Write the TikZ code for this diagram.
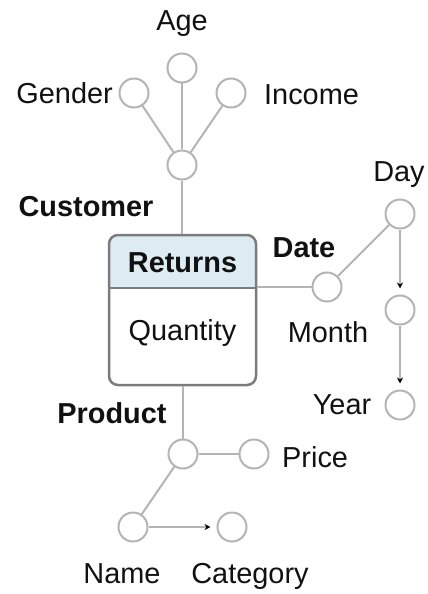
\documentclass[tikz,border=0pt]{standalone}
\usepackage{fontspec}
\setmainfont{Liberation Sans}
\usetikzlibrary{arrows.meta}
\definecolor{linegray}{HTML}{B4B4B4}
\definecolor{boxgray}{HTML}{7C7C7C}
\definecolor{headblue}{HTML}{DDECF3}
\definecolor{ink}{HTML}{111111}
\begin{document}
\begin{tikzpicture}[x=1bp,y=-1bp,
  attr/.style={circle,draw=linegray,line width=2bp,minimum size=29bp,inner sep=0pt,fill=white},
  lbl/.style={font=\fontsize{29}{34}\selectfont,text=ink,inner sep=0pt},
  dimlbl/.style={font=\fontsize{29}{34}\selectfont\bfseries,text=ink,inner sep=0pt},
  link/.style={draw=linegray,line width=2bp},
  hier/.style={link,-{Stealth[black,length=6bp,width=6bp]},shorten >=6bp}]
\useasboundingbox (0,0) rectangle (427,594);

% fact table: header band, separator and outline
\begin{scope}
  \clip[rounded corners=9bp] (109,235) rectangle (256,385);
  \fill[headblue] (109,235) rectangle (256,288);
  \fill[white] (109,288) rectangle (256,385);
\end{scope}
\draw[boxgray,line width=2.5bp] (109,288) -- (256,288);
\node (fact) [draw=boxgray,line width=2.5bp,rounded corners=9bp,minimum width=147bp,minimum height=150bp,inner sep=0pt] at (182.5,310) {};
\node (factname) [dimlbl] at (182.5,263) {Returns};
\node (measure) [lbl] at (182.5,333) {Quantity};

% Customer dimension
\node (cust) [attr] at (182,165) {};
\node (age) [attr] at (182,68) {};
\node (gender) [attr] at (134,93) {};
\node (income) [attr] at (231,93) {};
\node [lbl] at (182,24) {Age};
\node [lbl,anchor=east] at (113,93) {Gender};
\node [lbl,anchor=west] at (264,95) {Income};
\node [dimlbl] at (86,207) {Customer};
\draw[link] (cust) -- (age);
\draw[link] (cust) -- (gender);
\draw[link] (cust) -- (income);
\draw[link] (cust) -- (fact.north -| cust);

% Date dimension
\node (date) [attr] at (327,287) {};
\node (day) [attr] at (400,214) {};
\node (month) [attr] at (400,310) {};
\node (year) [attr] at (400,405) {};
\node [dimlbl] at (304,248) {Date};
\node [lbl] at (399,175) {Day};
\node [lbl] at (328,332) {Month};
\node [lbl] at (342,405) {Year};
\draw[link] (date -| fact.east) -- (date);
\draw[link] (date) -- (day);
\draw[hier] (day) -- (month);
\draw[hier] (month) -- (year);

% Product dimension
\node (prod) [attr] at (183,454) {};
\node (price) [attr] at (254,454) {};
\node (name) [attr] at (133,527) {};
\node (cat) [attr] at (232,527) {};
\node [dimlbl] at (112,413) {Product};
\node [lbl,anchor=west] at (282,457) {Price};
\node [lbl,anchor=base] at (122,583) {Name};
\node [lbl,anchor=base] at (250,583) {Category};
\draw[link] (fact.south -| prod) -- (prod);
\draw[link] (prod) -- (price);
\draw[link] (prod) -- (name);
\draw[hier] (name) -- (cat);
\end{tikzpicture}
\end{document}
